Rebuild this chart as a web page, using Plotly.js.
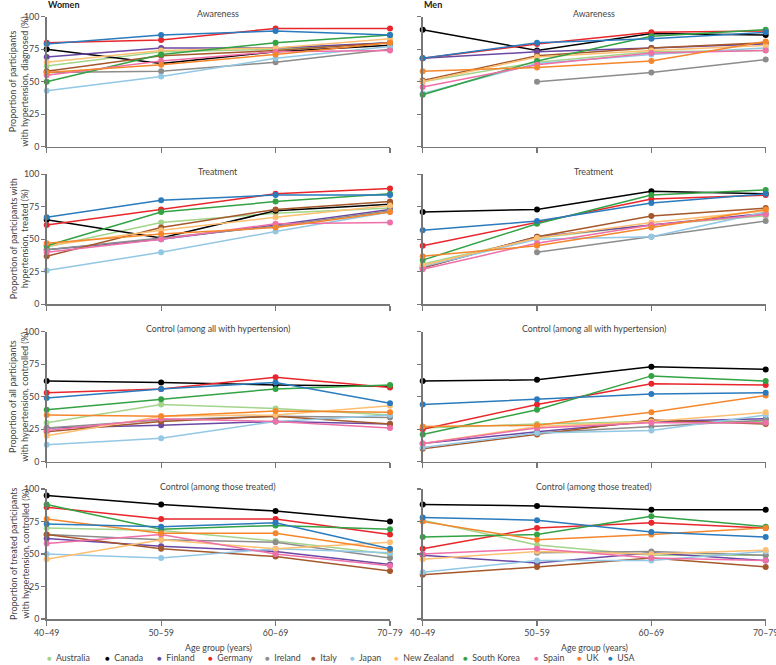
<!DOCTYPE html>
<html>
<head>
<meta charset="utf-8">
<script src="https://cdn.plot.ly/plotly-3.0.1.min.js"></script>
<style>html,body{margin:0;padding:0;background:#fff}#chart{width:776px;height:665px}</style>
</head>
<body>
<div id="chart"></div>
<script>
const ageGroups = ['40–49', '50–59', '60–69', '70–79'];
const countries = ['Australia', 'Canada', 'Finland', 'Germany', 'Ireland', 'Italy', 'Japan',
                   'New Zealand', 'South Korea', 'Spain', 'UK', 'USA'];
const colors = ['#a3d48b', '#000000', '#6a48a3', '#e8262b', '#8c8c8c', '#a5582b', '#93c8e4',
                '#fdbf72', '#33a244', '#ef6fa9', '#f5862c', '#2a7bbd'];
const panelTitles = ['Awareness', 'Treatment', 'Control (among all with hypertension)', 'Control (among those treated)'];
const yTitles = [
    'Proportion of participants<br>with hypertension, diagnosed (%)',
    'Proportion of participants with<br>hypertension, treated (%)',
    'Proportion of all participants<br>with hypertension, controlled (%)',
    'Proportion of treated participants<br>with hypertension, controlled (%)'
];

// one row per country, same order as countries; null = no estimate
const awarenessWomen = [
    [62, 73, 75, 80], [75, 64, 73, 78], [69, 76, 76, 80], [80, 82, 91, 91],
    [57, 58, 65, 75], [58, 70, 74, 80], [43, 54, 68, 77], [65, 74, 76, 83],
    [50, 71, 80, 86], [55, 66, 73, 74], [57, 63, 71, 80], [79, 86, 89, 86]
];
const awarenessMen = [
    [50, 65, 73, 74], [90, 74, 87, 86], [68, 73, 76, 79], [68, 79, 88, 89],
    [null, 50, 57, 67], [51, 70, 76, 80], [41, 64, 71, 76], [50, 69, 74, 78],
    [40, 66, 85, 90], [46, 63, 72, 74], [58, 61, 66, 81], [68, 80, 83, 88]
];
const treatmentWomen = [
    [44, 63, 70, 74], [65, 51, 72, 77], [42, 50, 61, 73], [61, 73, 85, 89],
    [42, 51, 60, 72], [37, 59, 73, 79], [26, 40, 56, 71], [45, 57, 67, 76],
    [45, 71, 79, 85], [40, 50, 62, 63], [47, 54, 59, 71], [67, 80, 84, 84]
];
const treatmentMen = [
    [31, 51, 61, 68], [71, 73, 87, 85], [28, 52, 61, 70], [45, 63, 81, 84],
    [null, 40, 52, 64], [28, 52, 68, 74], [29, 50, 52, 71], [30, 51, 63, 72],
    [34, 62, 84, 88], [27, 47, 61, 69], [37, 45, 59, 73], [57, 64, 78, 85]
];
const controlAllWomen = [
    [30, 44, 41, 36], [62, 61, 59, 58], [26, 28, 31, 29], [53, 56, 65, 57],
    [26, 32, 35, 34], [23, 31, 35, 29], [13, 18, 31, 36], [20, 35, 36, 43],
    [40, 48, 56, 59], [24, 33, 31, 26], [36, 35, 39, 38], [49, 56, 61, 45]
];
const controlAllMen = [
    [26, 29, 31, 31], [62, 63, 73, 71], [14, 23, 31, 33], [25, 44, 60, 59],
    [null, 22, 27, 32], [10, 21, 32, 29], [11, 22, 24, 36], [14, 27, 31, 38],
    [21, 40, 66, 62], [14, 26, 30, 30], [27, 28, 38, 51], [44, 48, 52, 53]
];
const controlTreatedWomen = [
    [70, 68, 60, 50], [95, 88, 83, 75], [62, 56, 52, 42], [86, 77, 77, 65],
    [65, 61, 59, 47], [65, 54, 48, 37], [50, 47, 54, 51], [46, 61, 54, 59],
    [88, 69, 72, 69], [58, 65, 50, 41], [77, 66, 66, 53], [73, 71, 74, 54]
];
const controlTreatedMen = [
    [76, 57, 49, 49], [88, 87, 84, 84], [49, 43, 51, 45], [54, 70, 74, 70],
    [null, 51, 52, 49], [34, 40, 47, 40], [36, 45, 45, 52], [46, 52, 50, 53],
    [63, 65, 79, 71], [50, 54, 47, 45], [75, 61, 65, 70], [78, 76, 67, 63]
];

const panels = [
    [awarenessWomen, awarenessMen],
    [treatmentWomen, treatmentMen],
    [controlAllWomen, controlAllMen],
    [controlTreatedWomen, controlTreatedMen]
];

const W = 776, H = 665;
const FONT = 'Lato, sans-serif';
const FS = 8.8;
const px = x => x / W;
const py = y => 1 - y / H;

// pixel boxes of the plot areas
const colX = [[46.7, 390], [422.7, 765.7]];
const rowY = [[16.7, 146.7], [174.3, 304.3], [331.7, 461.7], [489, 619]];
// legend dot centres (pixels)
const legendX = [48, 106, 158, 209, 266, 312, 351, 395, 464, 535, 578, 609];

const traces = [];
const layout = {
    width: W, height: H,
    margin: {l: 0, r: 0, t: 0, b: 0},
    paper_bgcolor: '#fff', plot_bgcolor: '#fff',
    font: {family: FONT, size: FS, color: '#444'},
    showlegend: false,
    annotations: []
};

panels.forEach((row, r) => {
    row.forEach((vals, c) => {
        const n = r * 2 + c + 1;
        const xa = n === 1 ? 'x' : 'x' + n;
        const ya = n === 1 ? 'y' : 'y' + n;
        vals.forEach((v, k) => {
            traces.push({
                x: ageGroups, y: v,
                xaxis: xa, yaxis: ya,
                type: 'scatter', mode: 'lines+markers',
                name: countries[k],
                line: {color: colors[k], width: 1.5},
                marker: {color: colors[k], size: 6},
                cliponaxis: false,
                hoverinfo: 'name+y'
            });
        });

        layout[n === 1 ? 'xaxis' : 'xaxis' + n] = {
            domain: [px(colX[c][0]), px(colX[c][1])],
            anchor: ya,
            type: 'category',
            range: [0, 3],
            tickvals: ageGroups,
            showticklabels: r === 3,
            ticks: 'outside', ticklen: 5, tickwidth: 1.2, tickcolor: '#777',
            showline: true, linecolor: '#777', linewidth: 1.6,
            showgrid: false, zeroline: false,
            tickfont: {size: FS, color: '#444'}
        };
        layout[n === 1 ? 'yaxis' : 'yaxis' + n] = {
            domain: [py(rowY[r][1]), py(rowY[r][0])],
            anchor: xa,
            range: [0, 100],
            tickvals: [0, 25, 50, 75, 100],
            showticklabels: c === 0,
            ticks: 'outside', ticklen: 4, tickwidth: 1.2, tickcolor: '#777',
            showline: true, linecolor: '#777', linewidth: 1.6,
            showgrid: false, zeroline: false,
            tickfont: {size: FS, color: '#444'}
        };

        // panel title
        layout.annotations.push({
            text: panelTitles[r],
            xref: 'paper', yref: 'paper',
            x: px((colX[c][0] + colX[c][1]) / 2), y: py(rowY[r][0] - 3),
            xanchor: 'center', yanchor: 'middle', showarrow: false,
            font: {size: FS, color: '#444'}
        });
        if (r === 3) {
            layout.annotations.push({
                text: 'Age group (years)',
                xref: 'paper', yref: 'paper',
                x: px((colX[c][0] + colX[c][1]) / 2), y: py(647),
                xanchor: 'center', yanchor: 'middle', showarrow: false,
                font: {size: FS, color: '#444'}
            });
        }
    });

    layout.annotations.push({
        text: yTitles[r],
        xref: 'paper', yref: 'paper',
        x: px(19), y: py((rowY[r][0] + rowY[r][1]) / 2),
        xanchor: 'center', yanchor: 'middle', showarrow: false,
        textangle: -90,
        font: {size: 9, color: '#444'}
    });
});

['Women', 'Men'].forEach((s, c) => {
    layout.annotations.push({
        text: '<b>' + s + '</b>',
        xref: 'paper', yref: 'paper',
        x: px(colX[c][0] - 1), y: py(4.5),
        xanchor: 'left', yanchor: 'middle', showarrow: false,
        font: {size: 9, color: '#222'}
    });
});

// legend: coloured dot + country name
countries.forEach((name, k) => {
    layout.annotations.push({
        text: '<span style="color:' + colors[k] + ';font-size:8px">●</span>\u00a0\u00a0' + name,
        xref: 'paper', yref: 'paper',
        x: px(legendX[k] - 3), y: py(657),
        xanchor: 'left', yanchor: 'middle', showarrow: false,
        font: {size: FS, color: '#444'}
    });
});

Plotly.newPlot('chart', traces, layout, {displayModeBar: false, staticPlot: true});
</script>
</body>
</html>
